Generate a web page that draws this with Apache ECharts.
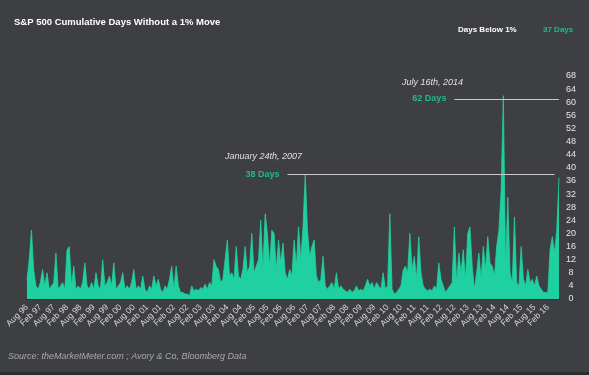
<!DOCTYPE html>
<html><head><meta charset="utf-8">
<script src="https://cdn.jsdelivr.net/npm/echarts@6/dist/echarts.min.js"></script>
<style>html,body{margin:0;padding:0;background:#3e3f43}#c{width:589px;height:375px}</style>
</head><body><div id="c"></div>
<script>
// Monthly values, Aug 1996 .. Jul 2016 (peak cumulative days without a 1% move)
const values = [
6,12,21,9,4,3,5,9,4,8, 3,4,5,14,3,4,5,3,15,16,
4,10,3,4,3,5,11,4,3,5, 3,8,4,3,12,4,5,7,4,11,
3,4,5,8,3,4,3,5,9,3, 4,3,7,3,2,4,3,7,4,6,
3,2,4,3,6,10,3,10,4,2, 2,1.5,1.5,1,4,2.5,3,2.5,3.5,3,
4.5,3,5,4,12,10,9,5,6,12, 18,7,8,6,16,7,6,9,16,8,
10,20,8,10,12,24,9,26,20,10, 21,20,9,18,11,17,8,6,9,7,
18,10,22,12,22,38,21,13,16,18, 7,5,6,13,4,3,4,5,3,8,
3,4,3,2.5,2,3,2,2.5,4,2.5, 3,2.5,4,6,4,5,3,5,4,3,
8,3,4,26,3,1.5,2,3,4,8.8, 10,8,20,9,13,6,19,8,4,3,
2.5,3,2.5,4,3,11,6,4,2,3, 4,5,22,5,14,8,15,6,20,22,
10,3,8,14,6,16,9,19,11,10, 7,16,21,33,62,10,31,8,5,25,
5,4,16,6,4,9,5,6,4,7, 4,3,2,2,2,15,19,14,21,37
];
const tickLabels = ['Aug 96','Feb 97','Aug 97','Feb 98','Aug 98','Feb 99','Aug 99','Feb 00','Aug 00','Feb 01',
'Aug 01','Feb 02','Aug 02','Feb 03','Aug 03','Feb 04','Aug 04','Feb 05','Aug 05','Feb 06',
'Aug 06','Feb 07','Aug 07','Feb 08','Aug 08','Feb 09','Aug 09','Feb 10','Aug 10','Feb 11',
'Aug 11','Feb 12','Aug 12','Feb 13','Aug 13','Feb 14','Aug 14','Feb 15','Aug 15','Feb 16'];
const annotations = [
  {lineAt: 61, from: 192, to: 239, label: '62 Days', date: 'July 16th, 2014'},
  {lineAt: 38, from: 117, to: 237, label: '38 Days', date: 'January 24th, 2007'}
];
const currentLabel = 'Days Below 1%';
const currentValue = '37 Days';

const categories = values.map((v, i) => String(i));
const teal = '#1fd1a0';
const chart = echarts.init(document.getElementById('c'), null, {renderer: 'canvas'});
chart.setOption({
  backgroundColor: '#3e3f43',
  animation: false,
  grid: {left: 27, right: 30, top: 76, bottom: 76},
  title: {text: 'S&P 500 Cumulative Days Without a 1% Move', left: 9, top: 12,
    textStyle: {color: '#ffffff', fontSize: 9.5, fontWeight: 'bold', fontFamily: 'Liberation Sans, Arial'}},
  xAxis: {
    type: 'category', data: categories, boundaryGap: false,
    axisLine: {show: true, lineStyle: {color: '#2e2f32', width: 2}},
    axisTick: {show: false},
    axisLabel: {
      interval: function (idx) { return idx % 6 === 0; },
      formatter: function (v, idx) { return tickLabels[idx / 6] || ''; },
      rotate: 45, margin: 7, color: '#d8d8d8', fontSize: 8.5, fontFamily: 'Liberation Sans, Arial'
    },
    splitLine: {show: false}
  },
  yAxis: {
    type: 'value', position: 'right', min: 0, max: 68, interval: 4,
    axisLine: {show: false}, axisTick: {show: false}, splitLine: {show: false},
    axisLabel: {color: '#e6e6e6', fontSize: 9, margin: 12, align: 'center', fontFamily: 'Liberation Sans, Arial'}
  },
  series: [{
    type: 'line', data: values, symbol: 'none',
    lineStyle: {color: teal, width: 0.8},
    areaStyle: {color: teal, opacity: 1},
    markLine: {
      silent: true, symbol: 'none',
      lineStyle: {color: '#c9c9c9', width: 1.2, type: 'solid'},
      label: {show: true, position: 'start', distance: 8, color: '#21b98c', fontSize: 9, fontWeight: 'bold',
        fontFamily: 'Liberation Sans, Arial', formatter: p => p.data.name || ''},
      data: annotations.map(a => [
        {coord: [a.from, a.lineAt], name: a.label},
        {coord: [a.to, a.lineAt]}
      ])
    }
  }],
  graphic: [
    {type: 'text', left: 402, top: 78, style: {text: annotations[0].date, fill: '#e0e0e0', font: 'italic 9px Liberation Sans, Arial'}},
    {type: 'text', left: 225, top: 152, style: {text: annotations[1].date, fill: '#e0e0e0', font: 'italic 9px Liberation Sans, Arial'}},
    {type: 'text', left: 458, top: 26, style: {text: currentLabel, fill: '#ffffff', font: 'bold 8px Liberation Sans, Arial'}},
    {type: 'text', left: 543, top: 26, style: {text: currentValue, fill: '#21b98c', font: 'bold 8px Liberation Sans, Arial'}},
    {type: 'text', left: 8, top: 352, style: {text: 'Source: theMarketMeter.com ; Avory & Co, Bloomberg Data', fill: '#a9a9ab', font: 'italic 9px Liberation Sans, Arial'}},
    {type: 'rect', left: 0, top: 372, shape: {width: 589, height: 3}, style: {fill: '#2c2c2f'}}
  ]
});
</script></body></html>
